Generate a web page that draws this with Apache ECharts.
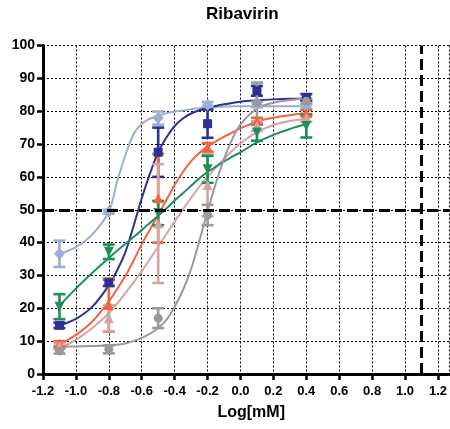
<!DOCTYPE html>
<html>
<head>
<meta charset="utf-8">
<script src="https://cdn.jsdelivr.net/npm/echarts@6/dist/echarts.min.js"></script>
<style>
  html, body { margin: 0; padding: 0; background: #fff; }
  #chart { width: 450px; height: 429px; }
</style>
</head>
<body>
<div id="chart"></div>
<script>
// Measured concentrations (log mM)
const doseX = [-1.1, -0.8, -0.5, -0.2, 0.1, 0.4];

// Mean response (%) and error half-width per series
const lightBlueMean = [36.6, 49.4, 77.9, 82.0, 82.0, 81.5];
const lightBlueErr  = [4.0, 0.6, 2.0, 0.8, 0.8, 0.8];
const darkBlueMean  = [14.8, 27.8, 67.5, 76.2, 86.2, 84.2];
const darkBlueErr   = [0.8, 1.0, 7.5, 4.3, 1.5, 1.0];
const orangeMean    = [9.2, 21.0, 53.5, 69.0, 77.0, 79.4];
const orangeErr     = [0.8, 8.1, 13.5, 1.3, 1.0, 1.0];
const greenMean     = [20.5, 37.2, 49.0, 62.3, 73.5, 75.5];
const greenErr      = [3.8, 2.2, 3.7, 4.1, 2.5, 3.5];
const pinkMean      = [8.5, 17.0, 45.8, 57.5, 75.5, 78.0];
const pinkErr       = [0.8, 4.0, 18.1, 9.5, 1.5, 1.2];
const grayMean      = [7.0, 7.5, 17.0, 48.4, 82.5, 83.0];
const grayErr       = [0.8, 1.2, 3.0, 3.1, 6.2, 0.8];

// Fitted dose-response curves sampled along log dose
const curveX = [-1.1, -1.0, -0.9, -0.8, -0.75, -0.7, -0.65, -0.6, -0.55, -0.5, -0.45, -0.4,
                -0.35, -0.3, -0.25, -0.2, -0.15, -0.1, -0.05, 0, 0.1, 0.2, 0.3, 0.4];
const lightBlueFit = [36.6, 38.6, 42.5, 49.4, 58.5, 66.5, 73.0, 76.2, 77.7, 78.7, 79.4, 79.9,
                      80.2, 80.6, 80.9, 81.2, 81.3, 81.4, 81.5, 81.5, 81.5, 81.5, 81.5, 81.5];
const darkBlueFit  = [14.8, 16.8, 20.5, 27.0, 31.5, 37.0, 45.0, 53.5, 61.0, 67.5, 72.0, 75.5,
                      77.8, 79.3, 80.3, 81.0, 81.6, 82.1, 82.5, 82.9, 83.3, 83.6, 83.8, 83.9];
const orangeFit    = [8.9, 11.9, 16.0, 22.1, 25.8, 29.8, 34.5, 39.5, 44.0, 48.5, 53.0, 57.5,
                      61.5, 64.8, 67.3, 69.2, 70.8, 72.2, 73.5, 74.8, 76.8, 78.0, 78.8, 79.4];
const greenFit     = [20.8, 26.0, 30.8, 35.3, 37.5, 39.6, 41.7, 43.8, 46.0, 48.2, 50.4, 52.8,
                      55.0, 57.3, 59.6, 61.5, 63.1, 64.7, 66.2, 67.5, 70.5, 72.8, 74.6, 76.0];
const pinkFit      = [7.8, 10.4, 14.0, 18.5, 21.4, 24.6, 27.9, 31.3, 35.0, 38.8, 42.6, 46.4,
                      50.1, 53.6, 57.0, 60.0, 62.8, 65.5, 68.0, 70.2, 73.6, 75.8, 77.0, 77.6];
const grayFit      = [8.3, 8.4, 8.5, 8.7, 8.9, 9.3, 10.0, 11.0, 12.3, 14.0, 16.5, 20.5,
                      25.5, 32.0, 40.5, 49.5, 58.0, 65.5, 71.5, 76.0, 80.8, 82.6, 83.4, 83.9];

// Reference lines: 50% response and a threshold dose
const halfResponse = 50;
const thresholdDose = 1.1;

// Axis ranges and tick steps
const xMin = -1.2, xMax = 1.27, xStep = 0.2;
const yMin = 0, yMax = 100, yStep = 10;

const groups = [
  { name: 'A', color: '#9caed2', mean: lightBlueMean, err: lightBlueErr, fit: lightBlueFit, symbol: 'diamond', size: [11, 12] },
  { name: 'B', color: '#2e3192', mean: darkBlueMean, err: darkBlueErr, fit: darkBlueFit, symbol: 'rect', size: 9 },
  { name: 'C', color: '#f26440', mean: orangeMean, err: orangeErr, fit: orangeFit, symbol: 'triangle', size: 10 },
  { name: 'D', color: '#d4a4a1', mean: pinkMean, err: pinkErr, fit: pinkFit, symbol: 'triangle', size: 10 },
  { name: 'E', color: '#1f8f5a', mean: greenMean, err: greenErr, fit: greenFit, symbol: 'path://M0,0 L10,0 L5,10 Z', size: 10 },
  { name: 'F', color: '#9a9a9a', mean: grayMean, err: grayErr, fit: grayFit, symbol: 'circle', size: 9 }
];

function errorBarRenderer(color) {
  return function (params, api) {
    const x = api.value(0);
    const pLo = api.coord([x, api.value(1)]);
    const pHi = api.coord([x, api.value(2)]);
    const hw = 6;
    const style = { stroke: color, lineWidth: 2.6 };
    return {
      type: 'group',
      children: [
        { type: 'line', shape: { x1: pHi[0], y1: pHi[1], x2: pLo[0], y2: pLo[1] }, style },
        { type: 'line', shape: { x1: pHi[0] - hw, y1: pHi[1], x2: pHi[0] + hw, y2: pHi[1] }, style },
        { type: 'line', shape: { x1: pLo[0] - hw, y1: pLo[1], x2: pLo[0] + hw, y2: pLo[1] }, style }
      ]
    };
  };
}

const series = [];

// Dashed reference lines
series.push({
  type: 'line',
  data: [],
  z: 1,
  markLine: {
    silent: true,
    symbol: 'none',
    label: { show: false },
    lineStyle: { color: '#000', width: 3, type: [11, 5] },
    data: [{ yAxis: halfResponse }, { xAxis: thresholdDose }]
  }
});

// Fitted curves
groups.forEach(g => {
  series.push({
    type: 'line',
    name: g.name + ' fit',
    data: curveX.map((x, i) => [x, g.fit[i]]),
    smooth: 0.35,
    showSymbol: false,
    symbol: 'none',
    lineStyle: { color: g.color, width: 2 },
    z: 2,
    silent: true
  });
});

// Error bars and mean markers
groups.forEach(g => {
  series.push({
    type: 'custom',
    name: g.name + ' err',
    renderItem: errorBarRenderer(g.color),
    data: doseX.map((x, i) => [x, g.mean[i] - g.err[i], g.mean[i] + g.err[i]]),
    encode: { x: 0, y: [1, 2] },
    z: 3,
    silent: true
  });
  series.push({
    type: 'scatter',
    name: g.name,
    data: doseX.map((x, i) => [x, g.mean[i]]),
    symbol: g.symbol,
    symbolSize: g.size,
    itemStyle: { color: g.color, opacity: 1 },
    z: 3,
    silent: true
  });
});

const fontFamily = '"Liberation Sans", Arial, sans-serif';
const gridDots = { color: '#000', width: 1, type: [2, 2] };

const option = {
  animation: false,
  backgroundColor: '#fff',
  title: {
    text: 'Ribavirin',
    left: 206,
    top: 6,
    padding: 0,
    textStyle: { fontFamily, fontWeight: 'bold', fontSize: 17, color: '#000' }
  },
  grid: { left: 43, right: 0, top: 45.5, bottom: 55, containLabel: false },
  xAxis: {
    type: 'value',
    min: xMin,
    max: xMax,
    interval: xStep,
    name: 'Log[mM]',
    nameLocation: 'middle',
    nameGap: 31,
    nameTextStyle: { fontFamily, fontWeight: 'bold', fontSize: 16, color: '#000', padding: [0, 0, 0, 10] },
    axisLine: { onZero: false, lineStyle: { color: '#000', width: 3 } },
    axisTick: { show: true, length: 6, lineStyle: { color: '#000', width: 2.5 } },
    axisLabel: {
      showMaxLabel: false,
      margin: 11,
      fontFamily, fontWeight: 'bold', fontSize: 13, color: '#000',
      formatter: v => (Math.abs(v) < 1e-9 ? '0.0' : v.toFixed(1))
    },
    splitLine: { show: true, lineStyle: gridDots }
  },
  yAxis: {
    type: 'value',
    min: yMin,
    max: yMax,
    interval: yStep,
    axisLine: { show: true, onZero: false, lineStyle: { color: '#000', width: 3 } },
    axisTick: { show: true, length: 6, lineStyle: { color: '#000', width: 2.5 } },
    axisLabel: { margin: 8, fontFamily, fontWeight: 'bold', fontSize: 14, color: '#000' },
    splitLine: { show: true, lineStyle: gridDots }
  },
  series
};

const chart = echarts.init(document.getElementById('chart'), null, { renderer: 'canvas' });
chart.setOption(option);
</script>
</body>
</html>
